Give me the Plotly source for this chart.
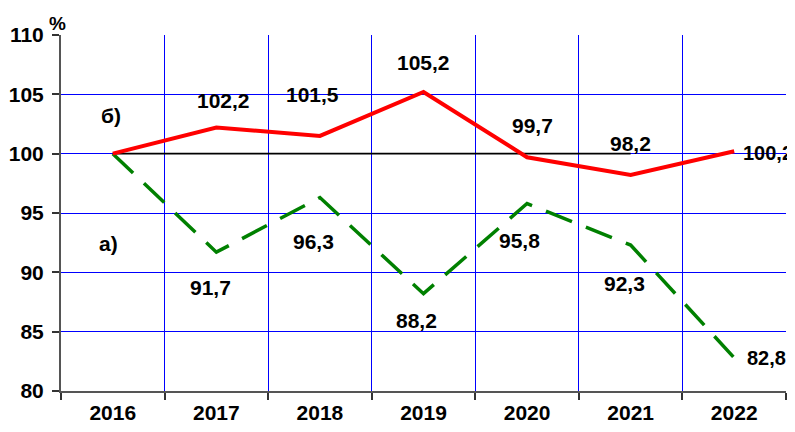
import plotly.graph_objects as go

years = ["2016", "2017", "2018", "2019", "2020", "2021", "2022"]
series_b = [100.0, 102.2, 101.5, 105.2, 99.7, 98.2, 100.2]   # б) red
series_a = [100.0, 91.7, 96.3, 88.2, 95.8, 92.3, 82.8]       # а) green dashed
base_years = ["2016", "2017", "2018", "2019", "2020", "2021"]
base_values = [100, 100, 100, 100, 100, 100]
labels_b = ["", "102,2", "101,5", "105,2", "99,7", "98,2", "100,2"]
labels_a = ["", "91,7", "96,3", "88,2", "95,8", "92,3", "82,8"]

FONT = "Liberation Sans, Arial, sans-serif"

fig = go.Figure()
fig.add_trace(go.Scatter(x=base_years, y=base_values, mode="lines",
                         line=dict(color="black", width=1.6), hoverinfo="skip"))
fig.add_trace(go.Scatter(x=years, y=series_a, mode="lines",
                         line=dict(color="#008000", width=3.5, dash="28px,15px")))
fig.add_trace(go.Scatter(x=years, y=series_b, mode="lines",
                         line=dict(color="#ff0000", width=4)))

# label offsets (pixels)
off_b = [None, (7, 27), (-7, 41), (0, 29), (5, 32), (0, 32), ("r", 7, -2)]
off_a = [None, (-6, -35), (-6, -44), (-7, -27), (-8, -37), (-6, -38), ("r", 11, 0)]

def add_labels(vals, labels, offs):
    for i, (v, t, o) in enumerate(zip(vals, labels, offs)):
        if not t:
            continue
        if o[0] == "r":
            fig.add_annotation(x=i, y=v, text=t, showarrow=False, xanchor="left",
                               yanchor="middle", xshift=o[1], yshift=o[2],
                               font=dict(size=20))
        else:
            fig.add_annotation(x=i, y=v, text=t, showarrow=False, xanchor="center",
                               yanchor="middle", xshift=o[0], yshift=o[1])

add_labels(series_b, labels_b, off_b)
add_labels(series_a, labels_a, off_a)

fig.add_annotation(x=0, y=103.2, text="б)", showarrow=False, xshift=-2)
fig.add_annotation(x=0, y=92.4, text="а)", showarrow=False, xshift=-4)
fig.add_annotation(xref="paper", yref="paper", x=-0.0055, y=1.0337, text="%",
                   xanchor="center", yanchor="middle",
                   showarrow=False, font=dict(size=19))

# page body has an 8px default margin: shrink the figure so the plot lands in place
fig.update_layout(
    width=787, height=424,
    margin=dict(l=53, r=9, t=27, b=41, autoexpand=False),
    paper_bgcolor="white", plot_bgcolor="white",
    showlegend=False,
    font=dict(family=FONT, size=21, color="black", weight="bold"),
)
fig.update_xaxes(type="category", categoryorder="array", categoryarray=years,
                 range=[-0.5, 6.5], tickson="boundaries", automargin=False,
                 showgrid=True, gridcolor="#0000ff", gridwidth=1,
                 showline=True, linecolor="#555555", linewidth=2,
                 ticks="outside", ticklen=7, tickcolor="#333333", tickwidth=1.5,
                 ticklabelstandoff=2,
                 tickfont=dict(size=21), zeroline=False)
fig.update_yaxes(range=[80, 110], dtick=5, tick0=80, automargin=False,
                 showgrid=True, gridcolor="#0000ff", gridwidth=1,
                 showline=True, linecolor="#555555", linewidth=2,
                 ticks="outside", ticklen=7, tickcolor="#333333", tickwidth=1.5,
                 ticklabelstandoff=4,
                 tickfont=dict(size=21), zeroline=False)

fig.write_html("out.html")
